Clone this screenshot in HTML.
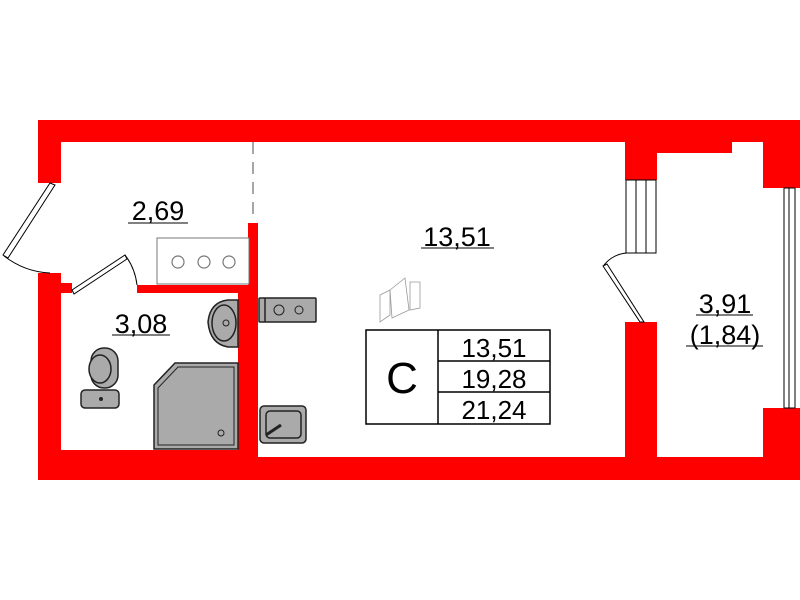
<!DOCTYPE html>
<html><head><style>body{margin:0;background:#fff}svg{display:block}text{font-family:"Liberation Sans",sans-serif;fill:#000}</style></head><body>
<svg width="800" height="600" viewBox="0 0 800 600">
<g fill="#f00">
<rect x="38" y="120" width="762" height="22"/>
<rect x="38" y="120" width="23" height="63"/>
<rect x="38" y="273" width="23" height="207"/>
<rect x="38" y="450" width="220" height="30"/>
<rect x="38" y="457" width="762" height="23"/>
<rect x="61" y="283" width="11" height="10"/>
<rect x="137" y="285" width="111" height="8"/>
<rect x="238" y="285" width="10" height="170"/>
<rect x="248" y="223" width="10" height="234"/>
<rect x="625" y="142" width="32" height="38"/>
<rect x="657" y="142" width="75" height="11"/>
<rect x="763" y="120" width="37" height="68"/>
<rect x="763" y="408" width="37" height="72"/>
<rect x="625" y="322" width="32" height="158"/>
</g>
<line x1="253" y1="142" x2="253" y2="215" stroke="#888" stroke-width="1.5" stroke-dasharray="12,8"/>
<g stroke="#000" fill="#fff" stroke-width="1">
<polygon points="50,183 55,185 8,258 3,255"/>
<path d="M4,256 Q25,272 50,273" fill="none"/>
<polygon points="72,290 125,255 127,259 74,294"/>
<path d="M125,255 Q135,268 137,285" fill="none"/>
<rect x="626" y="180" width="30" height="73"/>
<line x1="636" y1="180" x2="636" y2="253"/><line x1="646" y1="180" x2="646" y2="253"/>
<polygon points="603,266 607,264 644,322 640,322"/>
<path d="M604,265 Q613,254 627,253" fill="none"/>
<rect x="784" y="188" width="11" height="220"/>
<line x1="789" y1="188" x2="789" y2="408"/>
</g>
<rect x="157" y="238" width="92" height="46" fill="#fff" stroke="#777"/>
<g fill="none" stroke="#777" stroke-width="1.2"><circle cx="178" cy="262" r="6"/><circle cx="204" cy="262" r="6"/><circle cx="229" cy="262" r="6"/></g>
<g stroke="#222" stroke-width="1.5" fill="#aaa">
<path d="M238,300 L228,300 Q210,302 208,322 Q210,344 228,347 L238,347 Z"/>
<ellipse cx="224" cy="323" rx="12" ry="18"/>
<rect x="91" y="348" width="27" height="40" rx="13"/>
<ellipse cx="100" cy="369" rx="11" ry="14"/>
<rect x="81" y="390" width="38" height="18" rx="4"/>
<polygon points="175,363 238,363 238,449 154,449 154,385"/>
<polygon points="178,367 234,367 234,445 158,445 158,388" fill="none" stroke-width="1"/>
<rect x="259" y="298" width="57" height="24" rx="1"/>
<line x1="265" y1="298" x2="265" y2="322"/>
<rect x="260" y="406" width="46" height="37" rx="4"/>
<rect x="266" y="411" width="35" height="27" rx="4" fill="none"/>
<line x1="266" y1="435" x2="281" y2="425" stroke-width="3"/>
</g>
<circle cx="279" cy="310" r="5" fill="none" stroke="#222"/><circle cx="299" cy="310" r="4" fill="none" stroke="#222"/>
<circle cx="101" cy="399" r="2" fill="#222"/>
<circle cx="226" cy="323" r="3" fill="none" stroke="#222"/><circle cx="221" cy="433" r="3" fill="none" stroke="#222"/>
<g fill="none" stroke="#999" stroke-width="0.8"><polygon points="380,295 390,290 390,315 380,322"/><polygon points="390,290 405,278 409,310 392,318"/><polygon points="410,282 420,282 420,308 410,310"/></g>
<g fill="none" stroke="#000" stroke-width="1.5">
<rect x="366" y="330" width="184" height="94"/>
<line x1="438" y1="330" x2="438" y2="424"/>
<line x1="438" y1="361" x2="550" y2="361"/>
<line x1="438" y1="392" x2="550" y2="392"/>
</g>
<text x="402" y="393" font-size="44" text-anchor="middle">С</text>
<g font-size="26" text-anchor="middle">
<text x="494" y="357">13,51</text>
<text x="494" y="388">19,28</text>
<text x="494" y="419">21,24</text>
</g>
<g font-size="27" text-anchor="middle">
<text x="158" y="220">2,69</text><line x1="128" y1="223" x2="188" y2="223" stroke="#000"/>
<text x="141" y="333">3,08</text><line x1="112" y1="335" x2="170" y2="335" stroke="#000"/>
<text x="457" y="246">13,51</text><line x1="421" y1="248" x2="494" y2="248" stroke="#000"/>
<text x="725" y="313">3,91</text><line x1="696" y1="315" x2="753" y2="315" stroke="#000"/>
<text x="725" y="344">(1,84)</text><line x1="686" y1="346" x2="763" y2="346" stroke="#000"/>
</g>
</svg>
</body></html>
